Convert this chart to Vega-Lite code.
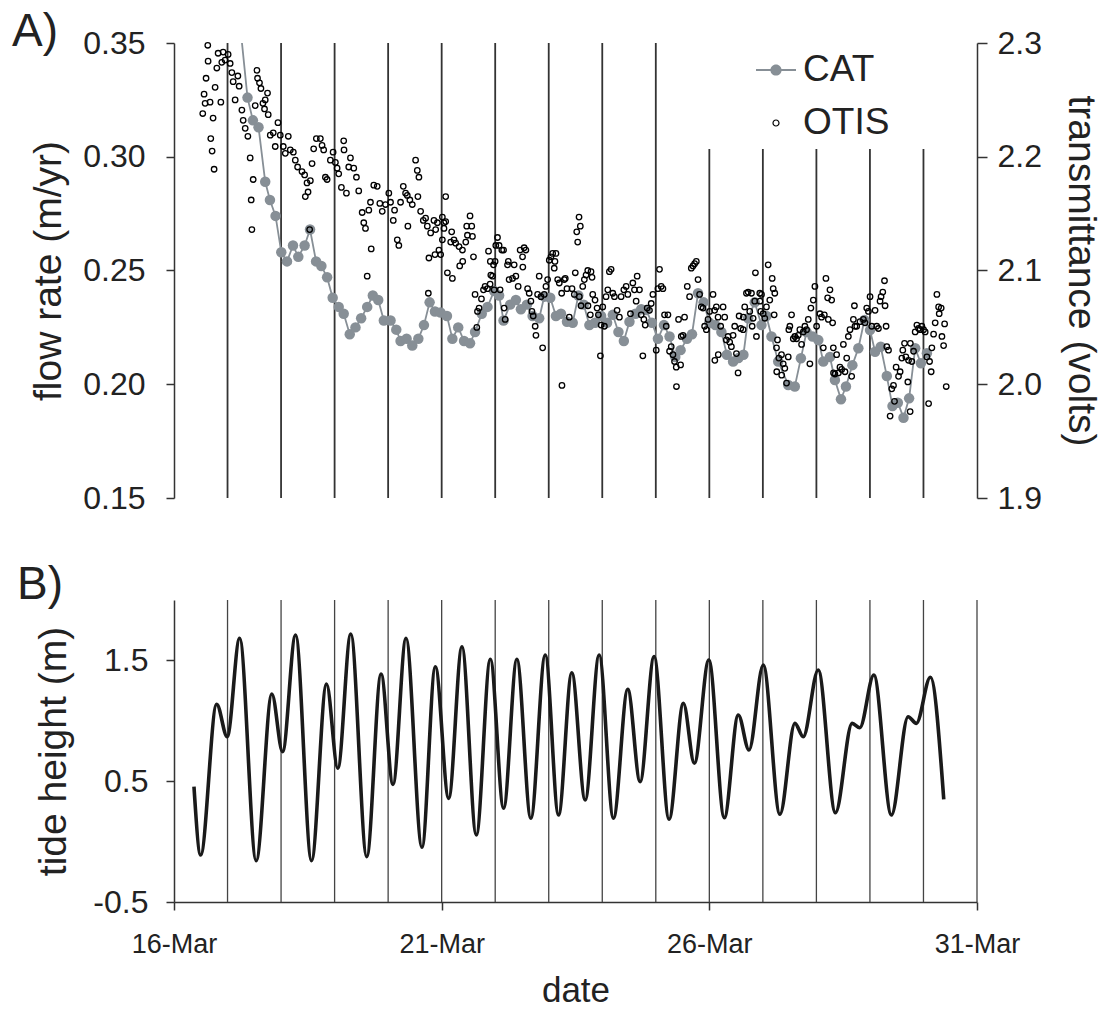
{
  "$schema": "https://vega.github.io/schema/vega-lite/v6.json",
  "background": "white",
  "padding": {"left": 12, "top": 9, "right": 5, "bottom": 3},
  "bounds": "flush",
  "spacing": 102,
  "config": {
    "view": {"stroke": null},
    "font": "Liberation Sans",
    "axis": {
      "grid": false,
      "labelFont": "Liberation Sans",
      "titleFont": "Liberation Sans",
      "labelFontSize": 32,
      "titleFontSize": 39,
      "titleFontWeight": "normal",
      "labelColor": "#222222",
      "titleColor": "#222222",
      "domainColor": "#333333",
      "tickColor": "#333333",
      "domainWidth": 1.5,
      "tickWidth": 1.5,
      "tickSize": 8,
      "labelFlush": false,
      "labelOverlap": false
    }
  },
  "datasets": {
    "daylinesA": [
      {"day": 17, "bottom": 0.15, "top": 0.35},
      {"day": 18, "bottom": 0.15, "top": 0.35},
      {"day": 19, "bottom": 0.15, "top": 0.35},
      {"day": 20, "bottom": 0.15, "top": 0.35},
      {"day": 21, "bottom": 0.15, "top": 0.35},
      {"day": 22, "bottom": 0.15, "top": 0.35},
      {"day": 23, "bottom": 0.15, "top": 0.35},
      {"day": 24, "bottom": 0.15, "top": 0.35},
      {"day": 25, "bottom": 0.15, "top": 0.35},
      {"day": 26, "bottom": 0.15, "top": 0.3034},
      {"day": 27, "bottom": 0.15, "top": 0.3034},
      {"day": 28, "bottom": 0.15, "top": 0.3034},
      {"day": 29, "bottom": 0.15, "top": 0.3034},
      {"day": 30, "bottom": 0.15, "top": 0.3034}
    ],
    "daylinesB": [
      {"day": 17}, {"day": 18}, {"day": 19}, {"day": 20}, {"day": 21}, {"day": 22}, {"day": 23},
      {"day": 24}, {"day": 25}, {"day": 26}, {"day": 27}, {"day": 28}, {"day": 29}, {"day": 30}, {"day": 31}
    ],
    "cat": [
      {"day": 17.227, "flow": 0.360, "series": "CAT"},
      {"day": 17.373, "flow": 0.326, "series": "CAT"},
      {"day": 17.474, "flow": 0.316, "series": "CAT"},
      {"day": 17.579, "flow": 0.313, "series": "CAT"},
      {"day": 17.704, "flow": 0.289, "series": "CAT"},
      {"day": 17.792, "flow": 0.281, "series": "CAT"},
      {"day": 17.897, "flow": 0.274, "series": "CAT"},
      {"day": 18.004, "flow": 0.258, "series": "CAT"},
      {"day": 18.111, "flow": 0.254, "series": "CAT"},
      {"day": 18.223, "flow": 0.261, "series": "CAT"},
      {"day": 18.322, "flow": 0.256, "series": "CAT"},
      {"day": 18.440, "flow": 0.261, "series": "CAT"},
      {"day": 18.541, "flow": 0.268, "series": "CAT"},
      {"day": 18.654, "flow": 0.254, "series": "CAT"},
      {"day": 18.753, "flow": 0.252, "series": "CAT"},
      {"day": 18.860, "flow": 0.247, "series": "CAT"},
      {"day": 18.964, "flow": 0.238, "series": "CAT"},
      {"day": 19.077, "flow": 0.234, "series": "CAT"},
      {"day": 19.170, "flow": 0.231, "series": "CAT"},
      {"day": 19.283, "flow": 0.222, "series": "CAT"},
      {"day": 19.390, "flow": 0.225, "series": "CAT"},
      {"day": 19.496, "flow": 0.229, "series": "CAT"},
      {"day": 19.609, "flow": 0.234, "series": "CAT"},
      {"day": 19.714, "flow": 0.239, "series": "CAT"},
      {"day": 19.815, "flow": 0.237, "series": "CAT"},
      {"day": 19.920, "flow": 0.228, "series": "CAT"},
      {"day": 20.045, "flow": 0.228, "series": "CAT"},
      {"day": 20.152, "flow": 0.224, "series": "CAT"},
      {"day": 20.232, "flow": 0.219, "series": "CAT"},
      {"day": 20.345, "flow": 0.220, "series": "CAT"},
      {"day": 20.451, "flow": 0.217, "series": "CAT"},
      {"day": 20.564, "flow": 0.220, "series": "CAT"},
      {"day": 20.669, "flow": 0.226, "series": "CAT"},
      {"day": 20.775, "flow": 0.236, "series": "CAT"},
      {"day": 20.875, "flow": 0.232, "series": "CAT"},
      {"day": 20.981, "flow": 0.2315, "series": "CAT"},
      {"day": 21.099, "flow": 0.230, "series": "CAT"},
      {"day": 21.200, "flow": 0.220, "series": "CAT"},
      {"day": 21.309, "flow": 0.225, "series": "CAT"},
      {"day": 21.418, "flow": 0.219, "series": "CAT"},
      {"day": 21.530, "flow": 0.218, "series": "CAT"},
      {"day": 21.624, "flow": 0.223, "series": "CAT"},
      {"day": 21.749, "flow": 0.231, "series": "CAT"},
      {"day": 21.856, "flow": 0.234, "series": "CAT"},
      {"day": 21.980, "flow": 0.241, "series": "CAT"},
      {"day": 22.073, "flow": 0.239, "series": "CAT"},
      {"day": 22.156, "flow": 0.228, "series": "CAT"},
      {"day": 22.279, "flow": 0.235, "series": "CAT"},
      {"day": 22.386, "flow": 0.237, "series": "CAT"},
      {"day": 22.480, "flow": 0.233, "series": "CAT"},
      {"day": 22.592, "flow": 0.235, "series": "CAT"},
      {"day": 22.699, "flow": 0.230, "series": "CAT"},
      {"day": 22.822, "flow": 0.229, "series": "CAT"},
      {"day": 22.916, "flow": 0.2385, "series": "CAT"},
      {"day": 23.028, "flow": 0.238, "series": "CAT"},
      {"day": 23.135, "flow": 0.230, "series": "CAT"},
      {"day": 23.229, "flow": 0.231, "series": "CAT"},
      {"day": 23.341, "flow": 0.2275, "series": "CAT"},
      {"day": 23.448, "flow": 0.227, "series": "CAT"},
      {"day": 23.553, "flow": 0.239, "series": "CAT"},
      {"day": 23.654, "flow": 0.235, "series": "CAT"},
      {"day": 23.759, "flow": 0.226, "series": "CAT"},
      {"day": 23.865, "flow": 0.227, "series": "CAT"},
      {"day": 23.978, "flow": 0.230, "series": "CAT"},
      {"day": 24.090, "flow": 0.227, "series": "CAT"},
      {"day": 24.197, "flow": 0.2305, "series": "CAT"},
      {"day": 24.302, "flow": 0.223, "series": "CAT"},
      {"day": 24.403, "flow": 0.219, "series": "CAT"},
      {"day": 24.508, "flow": 0.2275, "series": "CAT"},
      {"day": 24.620, "flow": 0.231, "series": "CAT"},
      {"day": 24.727, "flow": 0.233, "series": "CAT"},
      {"day": 24.820, "flow": 0.2326, "series": "CAT"},
      {"day": 24.927, "flow": 0.227, "series": "CAT"},
      {"day": 25.040, "flow": 0.220, "series": "CAT"},
      {"day": 25.152, "flow": 0.226, "series": "CAT"},
      {"day": 25.257, "flow": 0.221, "series": "CAT"},
      {"day": 25.364, "flow": 0.212, "series": "CAT"},
      {"day": 25.463, "flow": 0.215, "series": "CAT"},
      {"day": 25.582, "flow": 0.220, "series": "CAT"},
      {"day": 25.676, "flow": 0.222, "series": "CAT"},
      {"day": 25.789, "flow": 0.240, "series": "CAT"},
      {"day": 25.893, "flow": 0.236, "series": "CAT"},
      {"day": 26.000, "flow": 0.227, "series": "CAT"},
      {"day": 26.113, "flow": 0.226, "series": "CAT"},
      {"day": 26.225, "flow": 0.223, "series": "CAT"},
      {"day": 26.328, "flow": 0.213, "series": "CAT"},
      {"day": 26.444, "flow": 0.210, "series": "CAT"},
      {"day": 26.543, "flow": 0.2115, "series": "CAT"},
      {"day": 26.637, "flow": 0.213, "series": "CAT"},
      {"day": 26.725, "flow": 0.229, "series": "CAT"},
      {"day": 26.848, "flow": 0.236, "series": "CAT"},
      {"day": 26.974, "flow": 0.226, "series": "CAT"},
      {"day": 27.067, "flow": 0.230, "series": "CAT"},
      {"day": 27.161, "flow": 0.221, "series": "CAT"},
      {"day": 27.287, "flow": 0.210, "series": "CAT"},
      {"day": 27.474, "flow": 0.1997, "series": "CAT"},
      {"day": 27.597, "flow": 0.199, "series": "CAT"},
      {"day": 27.710, "flow": 0.2114, "series": "CAT"},
      {"day": 27.816, "flow": 0.223, "series": "CAT"},
      {"day": 27.929, "flow": 0.221, "series": "CAT"},
      {"day": 28.036, "flow": 0.2194, "series": "CAT"},
      {"day": 28.129, "flow": 0.210, "series": "CAT"},
      {"day": 28.253, "flow": 0.212, "series": "CAT"},
      {"day": 28.346, "flow": 0.2019, "series": "CAT"},
      {"day": 28.459, "flow": 0.1934, "series": "CAT"},
      {"day": 28.552, "flow": 0.199, "series": "CAT"},
      {"day": 28.672, "flow": 0.2084, "series": "CAT"},
      {"day": 28.784, "flow": 0.2158, "series": "CAT"},
      {"day": 28.897, "flow": 0.2282, "series": "CAT"},
      {"day": 29.002, "flow": 0.2238, "series": "CAT"},
      {"day": 29.096, "flow": 0.2143, "series": "CAT"},
      {"day": 29.202, "flow": 0.2165, "series": "CAT"},
      {"day": 29.315, "flow": 0.2036, "series": "CAT"},
      {"day": 29.421, "flow": 0.1904, "series": "CAT"},
      {"day": 29.521, "flow": 0.1919, "series": "CAT"},
      {"day": 29.627, "flow": 0.1853, "series": "CAT"},
      {"day": 29.732, "flow": 0.1938, "series": "CAT"},
      {"day": 29.845, "flow": 0.2158, "series": "CAT"},
      {"day": 29.952, "flow": 0.2092, "series": "CAT"},
      {"day": 30.064, "flow": 0.2136, "series": "CAT"}
    ],
    "otis": [
      {"day":16.537,"volts":2.238,"series":"OTIS"},{"day":16.562,"volts":2.255,"series":"OTIS"},{"day":16.581,"volts":2.247,"series":"OTIS"},{"day":16.599,"volts":2.269,"series":"OTIS"},{"day":16.631,"volts":2.298,"series":"OTIS"},{"day":16.637,"volts":2.284,"series":"OTIS"},{"day":16.674,"volts":2.248,"series":"OTIS"},{"day":16.687,"volts":2.216,"series":"OTIS"},{"day":16.712,"volts":2.205,"series":"OTIS"},{"day":16.730,"volts":2.234,"series":"OTIS"},{"day":16.749,"volts":2.189,"series":"OTIS"},{"day":16.768,"volts":2.261,"series":"OTIS"},{"day":16.800,"volts":2.278,"series":"OTIS"},{"day":16.824,"volts":2.291,"series":"OTIS"},{"day":16.875,"volts":2.248,"series":"OTIS"},{"day":16.893,"volts":2.283,"series":"OTIS"},{"day":16.918,"volts":2.292,"series":"OTIS"},{"day":16.955,"volts":2.285,"series":"OTIS"},{"day":17.011,"volts":2.290,"series":"OTIS"},{"day":17.049,"volts":2.282,"series":"OTIS"},{"day":17.081,"volts":2.274,"series":"OTIS"},{"day":17.105,"volts":2.266,"series":"OTIS"},{"day":17.142,"volts":2.250,"series":"OTIS"},{"day":17.193,"volts":2.271,"series":"OTIS"},{"day":17.217,"volts":2.262,"series":"OTIS"},{"day":17.268,"volts":2.241,"series":"OTIS"},{"day":17.292,"volts":2.232,"series":"OTIS"},{"day":17.330,"volts":2.225,"series":"OTIS"},{"day":17.380,"volts":2.218,"series":"OTIS"},{"day":17.423,"volts":2.199,"series":"OTIS"},{"day":17.479,"volts":2.180,"series":"OTIS"},{"day":17.442,"volts":2.162,"series":"OTIS"},{"day":17.455,"volts":2.136,"series":"OTIS"},{"day":17.517,"volts":2.245,"series":"OTIS"},{"day":17.549,"volts":2.276,"series":"OTIS"},{"day":17.560,"volts":2.269,"series":"OTIS"},{"day":17.597,"volts":2.265,"series":"OTIS"},{"day":17.624,"volts":2.260,"series":"OTIS"},{"day":17.661,"volts":2.247,"series":"OTIS"},{"day":17.704,"volts":2.250,"series":"OTIS"},{"day":17.747,"volts":2.256,"series":"OTIS"},{"day":17.691,"volts":2.242,"series":"OTIS"},{"day":17.760,"volts":2.237,"series":"OTIS"},{"day":17.798,"volts":2.219,"series":"OTIS"},{"day":17.854,"volts":2.221,"series":"OTIS"},{"day":17.891,"volts":2.209,"series":"OTIS"},{"day":17.942,"volts":2.230,"series":"OTIS"},{"day":17.985,"volts":2.219,"series":"OTIS"},{"day":18.041,"volts":2.209,"series":"OTIS"},{"day":18.079,"volts":2.203,"series":"OTIS"},{"day":18.135,"volts":2.218,"series":"OTIS"},{"day":18.172,"volts":2.206,"series":"OTIS"},{"day":18.229,"volts":2.204,"series":"OTIS"},{"day":18.266,"volts":2.197,"series":"OTIS"},{"day":18.309,"volts":2.191,"series":"OTIS"},{"day":18.391,"volts":2.187,"series":"OTIS"},{"day":18.440,"volts":2.184,"series":"OTIS"},{"day":18.485,"volts":2.177,"series":"OTIS"},{"day":18.453,"volts":2.165,"series":"OTIS"},{"day":18.504,"volts":2.169,"series":"OTIS"},{"day":18.547,"volts":2.179,"series":"OTIS"},{"day":18.579,"volts":2.194,"series":"OTIS"},{"day":18.609,"volts":2.207,"series":"OTIS"},{"day":18.659,"volts":2.216,"series":"OTIS"},{"day":18.734,"volts":2.216,"series":"OTIS"},{"day":18.766,"volts":2.210,"series":"OTIS"},{"day":18.796,"volts":2.206,"series":"OTIS"},{"day":18.828,"volts":2.182,"series":"OTIS"},{"day":18.860,"volts":2.180,"series":"OTIS"},{"day":18.921,"volts":2.197,"series":"OTIS"},{"day":18.972,"volts":2.204,"series":"OTIS"},{"day":19.015,"volts":2.195,"series":"OTIS"},{"day":19.047,"volts":2.190,"series":"OTIS"},{"day":19.077,"volts":2.185,"series":"OTIS"},{"day":19.127,"volts":2.173,"series":"OTIS"},{"day":19.170,"volts":2.214,"series":"OTIS"},{"day":19.176,"volts":2.206,"series":"OTIS"},{"day":19.221,"volts":2.168,"series":"OTIS"},{"day":19.264,"volts":2.191,"series":"OTIS"},{"day":19.296,"volts":2.199,"series":"OTIS"},{"day":19.358,"volts":2.190,"series":"OTIS"},{"day":19.408,"volts":2.182,"series":"OTIS"},{"day":19.451,"volts":2.170,"series":"OTIS"},{"day":19.515,"volts":2.151,"series":"OTIS"},{"day":19.545,"volts":2.142,"series":"OTIS"},{"day":19.577,"volts":2.137,"series":"OTIS"},{"day":19.639,"volts":2.153,"series":"OTIS"},{"day":19.670,"volts":2.160,"series":"OTIS"},{"day":19.684,"volts":2.119,"series":"OTIS"},{"day":19.732,"volts":2.175,"series":"OTIS"},{"day":19.796,"volts":2.174,"series":"OTIS"},{"day":19.845,"volts":2.159,"series":"OTIS"},{"day":19.890,"volts":2.152,"series":"OTIS"},{"day":19.951,"volts":2.158,"series":"OTIS"},{"day":20.013,"volts":2.168,"series":"OTIS"},{"day":20.045,"volts":2.160,"series":"OTIS"},{"day":20.096,"volts":2.144,"series":"OTIS"},{"day":20.120,"volts":2.153,"series":"OTIS"},{"day":20.171,"volts":2.127,"series":"OTIS"},{"day":20.200,"volts":2.122,"series":"OTIS"},{"day":20.232,"volts":2.160,"series":"OTIS"},{"day":20.283,"volts":2.174,"series":"OTIS"},{"day":20.326,"volts":2.168,"series":"OTIS"},{"day":20.358,"volts":2.166,"series":"OTIS"},{"day":20.369,"volts":2.139,"series":"OTIS"},{"day":20.406,"volts":2.162,"series":"OTIS"},{"day":20.451,"volts":2.158,"series":"OTIS"},{"day":20.513,"volts":2.197,"series":"OTIS"},{"day":20.545,"volts":2.188,"series":"OTIS"},{"day":20.575,"volts":2.182,"series":"OTIS"},{"day":20.556,"volts":2.165,"series":"OTIS"},{"day":20.607,"volts":2.152,"series":"OTIS"},{"day":20.657,"volts":2.144,"series":"OTIS"},{"day":20.700,"volts":2.146,"series":"OTIS"},{"day":20.732,"volts":2.139,"series":"OTIS"},{"day":20.762,"volts":2.111,"series":"OTIS"},{"day":20.794,"volts":2.133,"series":"OTIS"},{"day":20.856,"volts":2.144,"series":"OTIS"},{"day":20.888,"volts":2.136,"series":"OTIS"},{"day":20.920,"volts":2.142,"series":"OTIS"},{"day":20.949,"volts":2.118,"series":"OTIS"},{"day":20.981,"volts":2.114,"series":"OTIS"},{"day":21.013,"volts":2.147,"series":"OTIS"},{"day":21.043,"volts":2.142,"series":"OTIS"},{"day":21.075,"volts":2.165,"series":"OTIS"},
      {"day":18.534,"volts":2.136,"series":"OTIS"},{"day":19.609,"volts":2.095,"series":"OTIS"},{"day":20.751,"volts":2.080,"series":"OTIS"},{"day":20.875,"volts":2.114,"series":"OTIS"},
      {"day":21.013,"volts":2.127,"series":"OTIS"},{"day":21.043,"volts":2.137,"series":"OTIS"},{"day":21.075,"volts":2.143,"series":"OTIS"},{"day":21.107,"volts":2.098,"series":"OTIS"},{"day":21.169,"volts":2.125,"series":"OTIS"},{"day":21.187,"volts":2.134,"series":"OTIS"},{"day":21.200,"volts":2.093,"series":"OTIS"},{"day":21.230,"volts":2.127,"series":"OTIS"},{"day":21.262,"volts":2.124,"series":"OTIS"},{"day":21.324,"volts":2.121,"series":"OTIS"},{"day":21.337,"volts":2.104,"series":"OTIS"},{"day":21.388,"volts":2.118,"series":"OTIS"},{"day":21.393,"volts":2.108,"series":"OTIS"},{"day":21.450,"volts":2.125,"series":"OTIS"},{"day":21.468,"volts":2.139,"series":"OTIS"},{"day":21.481,"volts":2.131,"series":"OTIS"},{"day":21.530,"volts":2.148,"series":"OTIS"},{"day":21.562,"volts":2.139,"series":"OTIS"},{"day":21.575,"volts":2.130,"series":"OTIS"},{"day":21.594,"volts":2.112,"series":"OTIS"},{"day":21.624,"volts":2.079,"series":"OTIS"},{"day":21.669,"volts":2.064,"series":"OTIS"},{"day":21.656,"volts":2.050,"series":"OTIS"},{"day":21.699,"volts":2.067,"series":"OTIS"},{"day":21.743,"volts":2.075,"series":"OTIS"},{"day":21.781,"volts":2.083,"series":"OTIS"},{"day":21.811,"volts":2.086,"series":"OTIS"},{"day":21.856,"volts":2.084,"series":"OTIS"},{"day":21.875,"volts":2.117,"series":"OTIS"},{"day":21.905,"volts":2.088,"series":"OTIS"},{"day":21.909,"volts":2.108,"series":"OTIS"},{"day":21.918,"volts":2.096,"series":"OTIS"},{"day":21.950,"volts":2.095,"series":"OTIS"},{"day":21.968,"volts":2.105,"series":"OTIS"},{"day":21.980,"volts":2.083,"series":"OTIS"},{"day":21.998,"volts":2.108,"series":"OTIS"},{"day":22.011,"volts":2.122,"series":"OTIS"},{"day":22.043,"volts":2.129,"series":"OTIS"},{"day":22.073,"volts":2.122,"series":"OTIS"},{"day":22.092,"volts":2.083,"series":"OTIS"},{"day":22.124,"volts":2.118,"series":"OTIS"},{"day":22.156,"volts":2.118,"series":"OTIS"},{"day":22.167,"volts":2.067,"series":"OTIS"},{"day":22.186,"volts":2.057,"series":"OTIS"},{"day":22.230,"volts":2.105,"series":"OTIS"},{"day":22.245,"volts":2.108,"series":"OTIS"},{"day":22.260,"volts":2.092,"series":"OTIS"},{"day":22.324,"volts":2.093,"series":"OTIS"},{"day":22.354,"volts":2.105,"series":"OTIS"},{"day":22.386,"volts":2.095,"series":"OTIS"},{"day":22.429,"volts":2.086,"series":"OTIS"},{"day":22.466,"volts":2.118,"series":"OTIS"},{"day":22.511,"volts":2.112,"series":"OTIS"},{"day":22.516,"volts":2.103,"series":"OTIS"},{"day":22.541,"volts":2.120,"series":"OTIS"},{"day":22.573,"volts":2.118,"series":"OTIS"},{"day":22.605,"volts":2.084,"series":"OTIS"},{"day":22.635,"volts":2.080,"series":"OTIS"},{"day":22.667,"volts":2.073,"series":"OTIS"},{"day":22.686,"volts":2.064,"series":"OTIS"},{"day":22.710,"volts":2.060,"series":"OTIS"},{"day":22.747,"volts":2.051,"series":"OTIS"},{"day":22.761,"volts":2.043,"series":"OTIS"},{"day":22.792,"volts":2.079,"series":"OTIS"},{"day":22.822,"volts":2.095,"series":"OTIS"},{"day":22.854,"volts":2.077,"series":"OTIS"},{"day":22.886,"volts":2.032,"series":"OTIS"},{"day":22.916,"volts":2.079,"series":"OTIS"},{"day":22.948,"volts":2.086,"series":"OTIS"},{"day":22.979,"volts":2.092,"series":"OTIS"},{"day":23.010,"volts":2.109,"series":"OTIS"},{"day":23.041,"volts":2.112,"series":"OTIS"},{"day":23.073,"volts":2.115,"series":"OTIS"},{"day":23.103,"volts":2.102,"series":"OTIS"},{"day":23.116,"volts":2.108,"series":"OTIS"},{"day":23.135,"volts":2.115,"series":"OTIS"},{"day":23.167,"volts":2.092,"series":"OTIS"},{"day":23.197,"volts":2.089,"series":"OTIS"},{"day":23.242,"volts":2.080,"series":"OTIS"},{"day":23.247,"volts":1.999,"series":"OTIS"},{"day":23.290,"volts":2.092,"series":"OTIS"},{"day":23.309,"volts":2.093,"series":"OTIS"},{"day":23.341,"volts":2.084,"series":"OTIS"},{"day":23.384,"volts":2.059,"series":"OTIS"},{"day":23.435,"volts":2.084,"series":"OTIS"},{"day":23.478,"volts":2.079,"series":"OTIS"},{"day":23.496,"volts":2.098,"series":"OTIS"},{"day":23.523,"volts":2.134,"series":"OTIS"},{"day":23.541,"volts":2.125,"series":"OTIS"},{"day":23.566,"volts":2.147,"series":"OTIS"},{"day":23.590,"volts":2.139,"series":"OTIS"},{"day":23.571,"volts":2.077,"series":"OTIS"},{"day":23.603,"volts":2.069,"series":"OTIS"},{"day":23.635,"volts":2.086,"series":"OTIS"},{"day":23.665,"volts":2.092,"series":"OTIS"},{"day":23.697,"volts":2.096,"series":"OTIS"},{"day":23.729,"volts":2.100,"series":"OTIS"},{"day":23.733,"volts":2.069,"series":"OTIS"},{"day":23.777,"volts":2.061,"series":"OTIS"},{"day":23.790,"volts":2.099,"series":"OTIS"},{"day":23.809,"volts":2.094,"series":"OTIS"},{"day":23.822,"volts":2.079,"series":"OTIS"},{"day":23.865,"volts":2.074,"series":"OTIS"},{"day":23.903,"volts":2.067,"series":"OTIS"},{"day":23.927,"volts":2.061,"series":"OTIS"},{"day":23.965,"volts":2.025,"series":"OTIS"},{"day":23.978,"volts":2.052,"series":"OTIS"},{"day":24.009,"volts":2.068,"series":"OTIS"},{"day":24.040,"volts":2.051,"series":"OTIS"},{"day":24.071,"volts":2.077,"series":"OTIS"},{"day":24.103,"volts":2.083,"series":"OTIS"},{"day":24.133,"volts":2.099,"series":"OTIS"},{"day":24.165,"volts":2.101,"series":"OTIS"},{"day":24.197,"volts":2.080,"series":"OTIS"},{"day":24.227,"volts":2.077,"series":"OTIS"},{"day":24.277,"volts":2.065,"series":"OTIS"},{"day":24.320,"volts":2.059,"series":"OTIS"},{"day":24.352,"volts":2.077,"series":"OTIS"},{"day":24.403,"volts":2.083,"series":"OTIS"},{"day":24.446,"volts":2.086,"series":"OTIS"},{"day":24.478,"volts":2.079,"series":"OTIS"},{"day":24.526,"volts":2.062,"series":"OTIS"},{"day":24.571,"volts":2.089,"series":"OTIS"},{"day":24.601,"volts":2.083,"series":"OTIS"},{"day":24.633,"volts":2.073,"series":"OTIS"},{"day":24.652,"volts":2.095,"series":"OTIS"},{"day":24.695,"volts":2.083,"series":"OTIS"},{"day":24.727,"volts":2.061,"series":"OTIS"},{"day":24.758,"volts":2.025,"series":"OTIS"},{"day":24.777,"volts":2.057,"series":"OTIS"},{"day":24.802,"volts":2.052,"series":"OTIS"},{"day":24.839,"volts":2.067,"series":"OTIS"},{"day":24.882,"volts":2.065,"series":"OTIS"},{"day":24.914,"volts":2.071,"series":"OTIS"},{"day":24.946,"volts":2.079,"series":"OTIS"},{"day":25.008,"volts":2.030,"series":"OTIS"},{"day":25.040,"volts":2.084,"series":"OTIS"},{"day":25.069,"volts":2.101,"series":"OTIS"},{"day":25.101,"volts":2.086,"series":"OTIS"},{"day":25.133,"volts":2.084,"series":"OTIS"},{"day":25.163,"volts":2.061,"series":"OTIS"},{"day":25.195,"volts":2.051,"series":"OTIS"},{"day":25.227,"volts":2.061,"series":"OTIS"},{"day":25.257,"volts":2.029,"series":"OTIS"},{"day":25.288,"volts":2.033,"series":"OTIS"},{"day":25.320,"volts":2.026,"series":"OTIS"},{"day":25.350,"volts":2.020,"series":"OTIS"},{"day":25.382,"volts":2.015,"series":"OTIS"},{"day":25.386,"volts":1.998,"series":"OTIS"},{"day":25.425,"volts":2.057,"series":"OTIS"},{"day":25.463,"volts":2.017,"series":"OTIS"},{"day":25.476,"volts":2.042,"series":"OTIS"},{"day":25.508,"volts":2.043,"series":"OTIS"},{"day":25.537,"volts":2.059,"series":"OTIS"},{"day":25.588,"volts":2.086,"series":"OTIS"},{"day":25.631,"volts":2.077,"series":"OTIS"},{"day":25.663,"volts":2.102,"series":"OTIS"},{"day":25.695,"volts":2.104,"series":"OTIS"},{"day":25.725,"volts":2.106,"series":"OTIS"},{"day":25.757,"volts":2.108,"series":"OTIS"},{"day":25.789,"volts":2.092,"series":"OTIS"},{"day":25.818,"volts":2.079,"series":"OTIS"},{"day":25.850,"volts":2.068,"series":"OTIS"},{"day":25.882,"volts":2.067,"series":"OTIS"},{"day":25.912,"volts":2.051,"series":"OTIS"},{"day":25.944,"volts":2.048,"series":"OTIS"},{"day":25.976,"volts":2.057,"series":"OTIS"},{"day":26.006,"volts":2.064,"series":"OTIS"},{"day":26.069,"volts":2.079,"series":"OTIS"},{"day":26.099,"volts":2.065,"series":"OTIS"},{"day":26.103,"volts":2.021,"series":"OTIS"},{"day":26.131,"volts":2.068,"series":"OTIS"},{"day":26.163,"volts":2.059,"series":"OTIS"},{"day":26.167,"volts":2.026,"series":"OTIS"},{"day":26.212,"volts":2.051,"series":"OTIS"},{"day":26.257,"volts":2.068,"series":"OTIS"},{"day":26.287,"volts":2.059,"series":"OTIS"},{"day":26.318,"volts":2.039,"series":"OTIS"},{"day":26.350,"volts":2.042,"series":"OTIS"},{"day":26.380,"volts":2.037,"series":"OTIS"},{"day":26.412,"volts":2.033,"series":"OTIS"},{"day":26.444,"volts":2.043,"series":"OTIS"},{"day":26.474,"volts":2.051,"series":"OTIS"},{"day":26.506,"volts":2.027,"series":"OTIS"},{"day":26.537,"volts":2.010,"series":"OTIS"},{"day":26.556,"volts":2.060,"series":"OTIS"},{"day":26.586,"volts":2.049,"series":"OTIS"},{"day":26.631,"volts":2.048,"series":"OTIS"},{"day":26.635,"volts":2.059,"series":"OTIS"},{"day":26.661,"volts":2.068,"series":"OTIS"},{"day":26.693,"volts":2.080,"series":"OTIS"},{"day":26.725,"volts":2.081,"series":"OTIS"},{"day":26.755,"volts":2.064,"series":"OTIS"},{"day":26.787,"volts":2.080,"series":"OTIS"},{"day":26.800,"volts":2.051,"series":"OTIS"},{"day":26.818,"volts":2.058,"series":"OTIS"},{"day":26.848,"volts":2.073,"series":"OTIS"},{"day":26.861,"volts":2.098,"series":"OTIS"},{"day":26.880,"volts":2.042,"series":"OTIS"},{"day":26.942,"volts":2.080,"series":"OTIS"},{"day":26.946,"volts":2.073,"series":"OTIS"},{"day":26.961,"volts":2.064,"series":"OTIS"},{"day":26.974,"volts":2.079,"series":"OTIS"},{"day":27.006,"volts":2.062,"series":"OTIS"},{"day":27.036,"volts":2.058,"series":"OTIS"},{"day":27.067,"volts":2.068,"series":"OTIS"},{"day":27.099,"volts":2.105,"series":"OTIS"},{"day":27.129,"volts":2.074,"series":"OTIS"},{"day":27.174,"volts":2.093,"series":"OTIS"},{"day":27.193,"volts":2.084,"series":"OTIS"},{"day":27.211,"volts":2.061,"series":"OTIS"},{"day":27.223,"volts":2.080,"series":"OTIS"},{"day":27.255,"volts":2.032,"series":"OTIS"},{"day":27.259,"volts":2.011,"series":"OTIS"},{"day":27.273,"volts":2.039,"series":"OTIS"},{"day":27.298,"volts":2.023,"series":"OTIS"},{"day":27.348,"volts":2.026,"series":"OTIS"},{"day":27.352,"volts":2.008,"series":"OTIS"},{"day":27.380,"volts":2.018,"series":"OTIS"},{"day":27.410,"volts":2.014,"series":"OTIS"},{"day":27.442,"volts":2.001,"series":"OTIS"},{"day":27.474,"volts":2.024,"series":"OTIS"},{"day":27.485,"volts":2.048,"series":"OTIS"},{"day":27.504,"volts":2.051,"series":"OTIS"},{"day":27.536,"volts":2.061,"series":"OTIS"},{"day":27.568,"volts":2.040,"series":"OTIS"},{"day":27.597,"volts":2.042,"series":"OTIS"},{"day":27.629,"volts":2.040,"series":"OTIS"},{"day":27.661,"volts":2.043,"series":"OTIS"},{"day":27.691,"volts":2.048,"series":"OTIS"},{"day":27.723,"volts":2.035,"series":"OTIS"},{"day":27.755,"volts":2.046,"series":"OTIS"},{"day":27.785,"volts":2.051,"series":"OTIS"},{"day":27.816,"volts":2.048,"series":"OTIS"},{"day":27.848,"volts":2.057,"series":"OTIS"},{"day":27.878,"volts":2.018,"series":"OTIS"},{"day":27.897,"volts":2.067,"series":"OTIS"},{"day":27.942,"volts":2.074,"series":"OTIS"},{"day":27.972,"volts":2.086,"series":"OTIS"},{"day":28.004,"volts":2.051,"series":"OTIS"},{"day":28.066,"volts":2.062,"series":"OTIS"},{"day":28.097,"volts":2.059,"series":"OTIS"},{"day":28.129,"volts":2.032,"series":"OTIS"},{"day":28.148,"volts":2.061,"series":"OTIS"},{"day":28.178,"volts":2.093,"series":"OTIS"},{"day":28.210,"volts":2.076,"series":"OTIS"},{"day":28.223,"volts":2.057,"series":"OTIS"},{"day":28.253,"volts":2.083,"series":"OTIS"},{"day":28.285,"volts":2.074,"series":"OTIS"},{"day":28.303,"volts":2.054,"series":"OTIS"},{"day":28.316,"volts":2.032,"series":"OTIS"},{"day":28.320,"volts":2.010,"series":"OTIS"},{"day":28.346,"volts":2.009,"series":"OTIS"},{"day":28.378,"volts":2.026,"series":"OTIS"},{"day":28.410,"volts":2.010,"series":"OTIS"},{"day":28.440,"volts":2.015,"series":"OTIS"},{"day":28.472,"volts":2.013,"series":"OTIS"},{"day":28.504,"volts":2.035,"series":"OTIS"},{"day":28.534,"volts":2.011,"series":"OTIS"},{"day":28.566,"volts":2.023,"series":"OTIS"},{"day":28.597,"volts":2.042,"series":"OTIS"},{"day":28.627,"volts":2.048,"series":"OTIS"},{"day":28.659,"volts":2.007,"series":"OTIS"},{"day":28.691,"volts":2.057,"series":"OTIS"},{"day":28.710,"volts":2.069,"series":"OTIS"},{"day":28.721,"volts":2.051,"series":"OTIS"},{"day":28.753,"volts":2.051,"series":"OTIS"},{"day":28.815,"volts":2.055,"series":"OTIS"},{"day":28.878,"volts":2.057,"series":"OTIS"},{"day":28.908,"volts":2.054,"series":"OTIS"},{"day":28.940,"volts":2.067,"series":"OTIS"},{"day":28.972,"volts":2.064,"series":"OTIS"},{"day":29.002,"volts":2.077,"series":"OTIS"},{"day":29.034,"volts":2.051,"series":"OTIS"},{"day":29.096,"volts":2.065,"series":"OTIS"},{"day":29.127,"volts":2.051,"series":"OTIS"},{"day":29.159,"volts":2.049,"series":"OTIS"},{"day":29.189,"volts":2.073,"series":"OTIS"},{"day":29.208,"volts":2.077,"series":"OTIS"},{"day":29.240,"volts":2.081,"series":"OTIS"},{"day":29.272,"volts":2.091,"series":"OTIS"},{"day":29.283,"volts":2.069,"series":"OTIS"},{"day":29.302,"volts":2.051,"series":"OTIS"},{"day":29.315,"volts":2.033,"series":"OTIS"},{"day":29.347,"volts":2.030,"series":"OTIS"},{"day":29.377,"volts":1.972,"series":"OTIS"},{"day":29.408,"volts":1.996,"series":"OTIS"},{"day":29.440,"volts":1.999,"series":"OTIS"},{"day":29.459,"volts":1.985,"series":"OTIS"},{"day":29.489,"volts":2.015,"series":"OTIS"},{"day":29.534,"volts":2.007,"series":"OTIS"},{"day":29.564,"volts":2.011,"series":"OTIS"},{"day":29.596,"volts":2.023,"series":"OTIS"},{"day":29.614,"volts":2.030,"series":"OTIS"},{"day":29.646,"volts":2.036,"series":"OTIS"},{"day":29.671,"volts":2.024,"series":"OTIS"},{"day":29.708,"volts":2.002,"series":"OTIS"},{"day":29.721,"volts":2.021,"series":"OTIS"},{"day":29.751,"volts":1.976,"series":"OTIS"},{"day":29.755,"volts":2.036,"series":"OTIS"},{"day":29.783,"volts":2.020,"series":"OTIS"},{"day":29.815,"volts":2.029,"series":"OTIS"},{"day":29.845,"volts":2.046,"series":"OTIS"},{"day":29.877,"volts":2.052,"series":"OTIS"},{"day":29.908,"volts":2.049,"series":"OTIS"},{"day":29.938,"volts":2.048,"series":"OTIS"},{"day":29.970,"volts":2.051,"series":"OTIS"},{"day":30.002,"volts":2.048,"series":"OTIS"},{"day":30.032,"volts":2.046,"series":"OTIS"},{"day":30.064,"volts":2.024,"series":"OTIS"},{"day":30.096,"volts":1.983,"series":"OTIS"},{"day":30.114,"volts":2.020,"series":"OTIS"},{"day":30.144,"volts":2.011,"series":"OTIS"},{"day":30.157,"volts":2.032,"series":"OTIS"},{"day":30.189,"volts":2.044,"series":"OTIS"},{"day":30.219,"volts":2.054,"series":"OTIS"},{"day":30.251,"volts":2.079,"series":"OTIS"},{"day":30.283,"volts":2.068,"series":"OTIS"},{"day":30.294,"volts":2.062,"series":"OTIS"},{"day":30.331,"volts":2.067,"series":"OTIS"},{"day":30.345,"volts":2.042,"series":"OTIS"},{"day":30.376,"volts":2.034,"series":"OTIS"},{"day":30.395,"volts":2.053,"series":"OTIS"},{"day":30.425,"volts":1.998,"series":"OTIS"}
    ],
    "tide": [
      {"day": 16.373, "height": 0.455},
      {"day": 16.498, "height": -0.111},
      {"day": 16.797, "height": 1.137},
      {"day": 16.994, "height": 0.868},
      {"day": 17.226, "height": 1.683},
      {"day": 17.535, "height": -0.158},
      {"day": 17.828, "height": 1.222},
      {"day": 18.028, "height": 0.744},
      {"day": 18.271, "height": 1.710},
      {"day": 18.569, "height": -0.158},
      {"day": 18.849, "height": 1.305},
      {"day": 19.060, "height": 0.607},
      {"day": 19.302, "height": 1.719},
      {"day": 19.601, "height": -0.125},
      {"day": 19.868, "height": 1.387},
      {"day": 20.091, "height": 0.474},
      {"day": 20.334, "height": 1.683},
      {"day": 20.632, "height": -0.047},
      {"day": 20.882, "height": 1.448},
      {"day": 21.131, "height": 0.358},
      {"day": 21.379, "height": 1.613},
      {"day": 21.647, "height": 0.055},
      {"day": 21.909, "height": 1.509},
      {"day": 22.157, "height": 0.276},
      {"day": 22.405, "height": 1.509},
      {"day": 22.666, "height": 0.193},
      {"day": 22.935, "height": 1.545},
      {"day": 23.183, "height": 0.220},
      {"day": 23.431, "height": 1.398},
      {"day": 23.681, "height": 0.344},
      {"day": 23.942, "height": 1.545},
      {"day": 24.209, "height": 0.193},
      {"day": 24.476, "height": 1.261},
      {"day": 24.707, "height": 0.496},
      {"day": 24.968, "height": 1.531},
      {"day": 25.248, "height": 0.185},
      {"day": 25.515, "height": 1.145},
      {"day": 25.720, "height": 0.648},
      {"day": 25.991, "height": 1.503},
      {"day": 26.280, "height": 0.198},
      {"day": 26.541, "height": 1.048},
      {"day": 26.741, "height": 0.758},
      {"day": 27.007, "height": 1.462},
      {"day": 27.319, "height": 0.226},
      {"day": 27.599, "height": 0.979},
      {"day": 27.754, "height": 0.868},
      {"day": 28.034, "height": 1.421},
      {"day": 28.356, "height": 0.239},
      {"day": 28.668, "height": 0.979},
      {"day": 28.811, "height": 0.943},
      {"day": 29.073, "height": 1.379},
      {"day": 29.401, "height": 0.220},
      {"day": 29.713, "height": 1.034},
      {"day": 29.867, "height": 0.979},
      {"day": 30.129, "height": 1.360},
      {"day": 30.379, "height": 0.350}
    ]
  },
  "vconcat": [
    {
      "width": 803,
      "height": 455,
      "title": {"text": "A)", "anchor": "start", "frame": "group", "fontSize": 46, "fontWeight": "normal", "font": "Liberation Sans", "color": "#222222", "baseline": "alphabetic", "offset": 0, "dx": -162, "dy": 65},
      "layer": [
        {
          "layer": [
            {
              "data": {"name": "daylinesA"},
              "mark": {"type": "rule", "color": "#333333", "strokeWidth": 1.8},
              "encoding": {
                "x": {"field": "day", "type": "quantitative", "scale": {"domain": [16, 31], "nice": false, "zero": false}, "axis": null},
                "y": {"field": "bottom", "type": "quantitative", "scale": {"domain": [0.15, 0.35], "nice": false, "zero": false},
                      "axis": {"title": "flow rate (m/yr)", "values": [0.15, 0.2, 0.25, 0.3, 0.35], "format": ".2f", "labelPadding": 21, "titlePadding": 14}},
                "y2": {"field": "top"}
              }
            },
            {
              "data": {"name": "cat"},
              "mark": {"type": "line", "clip": true, "strokeWidth": 1.8},
              "encoding": {
                "x": {"field": "day", "type": "quantitative", "scale": {"domain": [16, 31], "nice": false, "zero": false}, "axis": null},
                "y": {"field": "flow", "type": "quantitative", "scale": {"domain": [0.15, 0.35], "nice": false, "zero": false},
                      "axis": {"title": "flow rate (m/yr)", "values": [0.15, 0.2, 0.25, 0.3, 0.35], "format": ".2f", "labelPadding": 21, "titlePadding": 14}},
                "color": {
                  "field": "series", "type": "nominal",
                  "scale": {"domain": ["CAT", "OTIS"], "range": ["#878f96", "#000000"]},
                  "legend": {
                    "orient": "none", "legendX": 582, "legendY": 7, "title": null, "padding": 0,
                    "labelFont": "Liberation Sans", "labelFontSize": 37, "labelColor": "#222222", "labelOffset": 7,
                    "rowPadding": 15, "symbolSize": 1600, "symbolStrokeWidth": 0,
                    "encode": {
                      "symbols": {
                        "update": {
                          "shape": {"signal": "datum.value === 'CAT' ? 'M-1,-0.05L1,-0.05L1,0.05L-1,0.05Z M-0.28,0A0.28,0.28,0,1,1,0.28,0A0.28,0.28,0,1,1,-0.28,0Z' : 'M-0.18,0A0.18,0.18,0,1,1,0.18,0A0.18,0.18,0,1,1,-0.18,0Z M-0.12,0A0.12,0.12,0,1,0,0.12,0A0.12,0.12,0,1,0,-0.12,0Z'"}
                        }
                      }
                    }
                  }
                }
              }
            },
            {
              "data": {"name": "cat"},
              "mark": {"type": "point", "filled": true, "clip": true, "size": 110, "opacity": 1},
              "encoding": {
                "x": {"field": "day", "type": "quantitative", "scale": {"domain": [16, 31], "nice": false, "zero": false}, "axis": null},
                "y": {"field": "flow", "type": "quantitative", "scale": {"domain": [0.15, 0.35], "nice": false, "zero": false},
                      "axis": {"title": "flow rate (m/yr)", "values": [0.15, 0.2, 0.25, 0.3, 0.35], "format": ".2f", "labelPadding": 21, "titlePadding": 14}},
                "color": {"field": "series", "type": "nominal"}
              }
            }
          ]
        },
        {
          "data": {"name": "otis"},
          "mark": {"type": "point", "filled": false, "size": 30, "strokeWidth": 1.3, "opacity": 1},
          "encoding": {
            "x": {"field": "day", "type": "quantitative", "scale": {"domain": [16, 31], "nice": false, "zero": false}, "axis": null},
            "y": {"field": "volts", "type": "quantitative", "scale": {"domain": [1.9, 2.3], "nice": false, "zero": false},
                  "axis": {"orient": "right", "title": "transmittance (volts)", "values": [1.9, 2.0, 2.1, 2.2, 2.3], "format": ".1f", "tickSize": 10, "labelPadding": 10, "titlePadding": 19}},
            "color": {"field": "series", "type": "nominal"}
          }
        }
      ],
      "resolve": {"scale": {"y": "independent"}, "axis": {"y": "independent"}}
    },
    {
      "width": 803,
      "height": 302,
      "title": {"text": "B)", "anchor": "start", "frame": "group", "fontSize": 46, "fontWeight": "normal", "font": "Liberation Sans", "color": "#222222", "baseline": "alphabetic", "offset": 0, "dx": -157, "dy": 46},
      "layer": [
        {
          "data": {"name": "daylinesB"},
          "mark": {"type": "rule", "color": "#444444", "strokeWidth": 1.3},
          "encoding": {
            "x": {"field": "day", "type": "quantitative", "scale": {"domain": [16, 31], "nice": false, "zero": false},
                  "axis": {"title": "date", "values": [16, 21, 26, 31], "labelExpr": "datum.value + '-Mar'", "labelFontSize": 27, "titleFontSize": 35, "labelPadding": 21, "titlePadding": 16}}
          }
        },
        {
          "data": {"name": "tide"},
          "mark": {"type": "line", "interpolate": "monotone", "color": "#1a1a1a", "strokeWidth": 3.6},
          "encoding": {
            "x": {"field": "day", "type": "quantitative", "scale": {"domain": [16, 31], "nice": false, "zero": false},
                  "axis": {"title": "date", "values": [16, 21, 26, 31], "labelExpr": "datum.value + '-Mar'", "labelFontSize": 27, "titleFontSize": 35, "labelPadding": 21, "titlePadding": 16}},
            "y": {"field": "height", "type": "quantitative", "scale": {"domain": [-0.5, 2.0], "nice": false, "zero": false},
                  "axis": {"title": "tide height (m)", "values": [-0.5, 0.5, 1.5], "labelExpr": "replace(format(datum.value, '.1f'), '\u2212', '-')", "labelPadding": 18, "titlePadding": 19}}
          }
        }
      ]
    }
  ]
}
